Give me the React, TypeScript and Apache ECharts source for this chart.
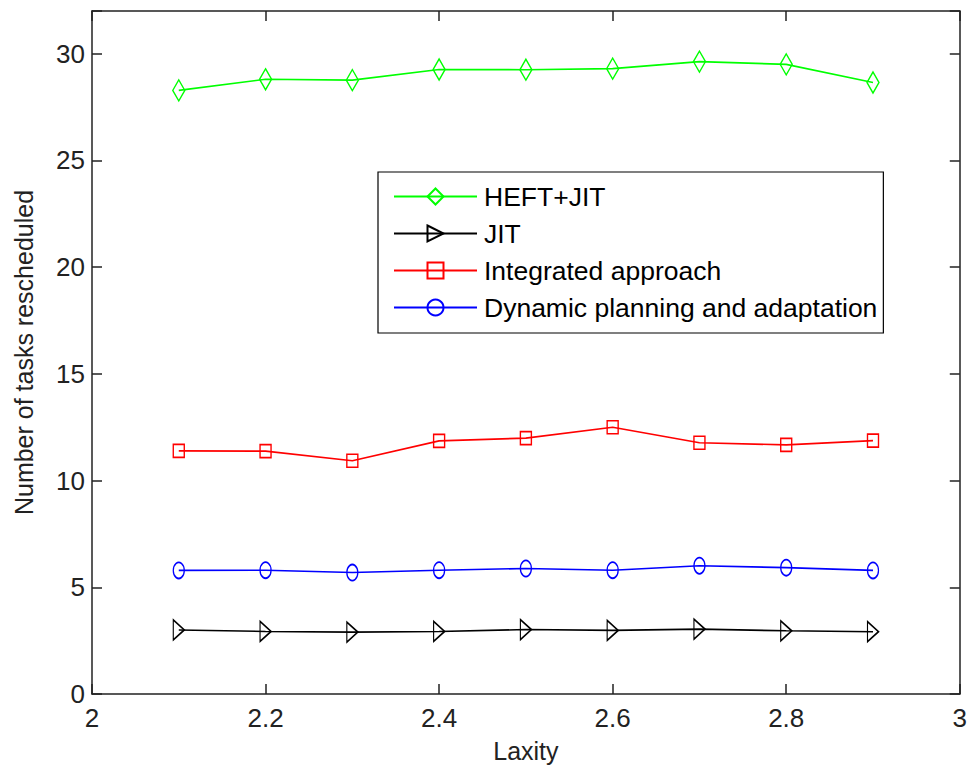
import React, { useEffect, useRef } from "react";
import * as echarts from "echarts";

const laxity = [2.1, 2.2, 2.3, 2.4, 2.5, 2.6, 2.7, 2.8, 2.9];
const heftJit = [28.28, 28.8, 28.76, 29.26, 29.25, 29.3, 29.63, 29.5, 28.65];
const jit = [3.0, 2.93, 2.9, 2.93, 3.02, 2.98, 3.04, 2.96, 2.92];
const integrated = [11.39, 11.38, 10.93, 11.86, 11.99, 12.5, 11.77, 11.67, 11.87];
const dynamic = [5.79, 5.8, 5.69, 5.8, 5.88, 5.8, 6.01, 5.92, 5.79];
const seriesNames = ["HEFT+JIT", "JIT", "Integrated approach", "Dynamic planning and adaptation"];
const xTicks = [2, 2.2, 2.4, 2.6, 2.8, 3];
const yTicks = [0, 5, 10, 15, 20, 25, 30];

const FONT = "'Liberation Sans', Arial, Helvetica, sans-serif";

function pairs(ys: number[]) {
  return laxity.map((x, i) => [x, ys[i]]);
}

export default function App() {
  const ref = useRef<HTMLDivElement>(null);
  useEffect(() => {
    if (!ref.current) return;
    const chart = echarts.init(ref.current, undefined, { renderer: "svg" });
    const axisLine = { show: true, onZero: false, lineStyle: { color: "#222", width: 1.5 } };
    const tick = { show: true, inside: true, length: 10, lineStyle: { color: "#222", width: 1.5 } };
    const mk = (name: string, ys: number[], color: string, symbol: string, size: number[]) => ({
      name,
      type: "line",
      data: pairs(ys),
      symbol,
      symbolSize: size,
      showAllSymbol: true,
      lineStyle: { color, width: 1.6 },
      itemStyle: { color: "rgba(255,255,255,0)", borderColor: color, borderWidth: 1.5 },
      emphasis: { disabled: true },
      z: 3,
    });
    chart.setOption({
      animation: false,
      backgroundColor: "#fff",
      textStyle: { fontFamily: FONT },
      grid: { left: 92, right: 9, top: 11, bottom: 75, containLabel: false },
      legend: {
        orient: "vertical",
        left: 378,
        top: 172,
        padding: [11, 6, 12, 15],
        itemWidth: 83,
        itemHeight: 20,
        itemGap: 10,
        borderColor: "#000",
        borderWidth: 1.2,
        backgroundColor: "#fff",
        textStyle: { fontSize: 26.5, color: "#000", fontFamily: FONT, padding: [0, 0, 0, 2] },
        data: seriesNames,
      },
      xAxis: [
        {
          type: "value",
          min: 2,
          max: 3,
          interval: 0.2,
          name: "Laxity",
          nameLocation: "middle",
          nameGap: 44,
          nameTextStyle: { fontSize: 25, color: "#222", fontFamily: FONT },
          axisLine,
          axisTick: tick,
          splitLine: { show: false },
          axisLabel: {
            fontSize: 26,
            color: "#222",
            margin: 11,
            fontFamily: FONT,
            formatter: (v: number) => {
              const r = Math.round(v * 10) / 10;
              return xTicks.some((t) => Math.abs(t - r) < 1e-6) ? String(r) : "";
            },
          },
        },
        {
          type: "value",
          position: "top",
          min: 2,
          max: 3,
          interval: 0.2,
          axisLine,
          axisTick: tick,
          axisLabel: { show: false },
          splitLine: { show: false },
        },
      ],
      yAxis: [
        {
          type: "value",
          min: 0,
          max: 32,
          interval: 5,
          name: "Number of tasks rescheduled",
          nameLocation: "middle",
          nameGap: 56,
          nameTextStyle: { fontSize: 25, color: "#222", fontFamily: FONT },
          axisLine,
          axisTick: tick,
          splitLine: { show: false },
          axisLabel: {
            fontSize: 26,
            color: "#222",
            margin: 7,
            fontFamily: FONT,
            formatter: (v: number) => (yTicks.includes(v) ? String(v) : ""),
          },
        },
        {
          type: "value",
          position: "right",
          min: 0,
          max: 32,
          interval: 5,
          axisLine,
          axisTick: tick,
          axisLabel: { show: false },
          splitLine: { show: false },
        },
      ],
      series: [
        mk(seriesNames[0], heftJit, "#00ff00", "diamond", [12, 21]),
        mk(seriesNames[1], jit, "#000000", "path://M0,0 L10,5 L0,10 Z", [11, 20]),
        mk(seriesNames[2], integrated, "#ff0000", "rect", [11, 13]),
        mk(seriesNames[3], dynamic, "#0000ff", "circle", [11, 16]),
      ],
    });
    return () => chart.dispose();
  }, []);
  return (
    <div
      ref={ref}
      style={{ position: "fixed", left: 0, top: 0, width: 970, height: 769, background: "#fff" }}
    />
  );
}
